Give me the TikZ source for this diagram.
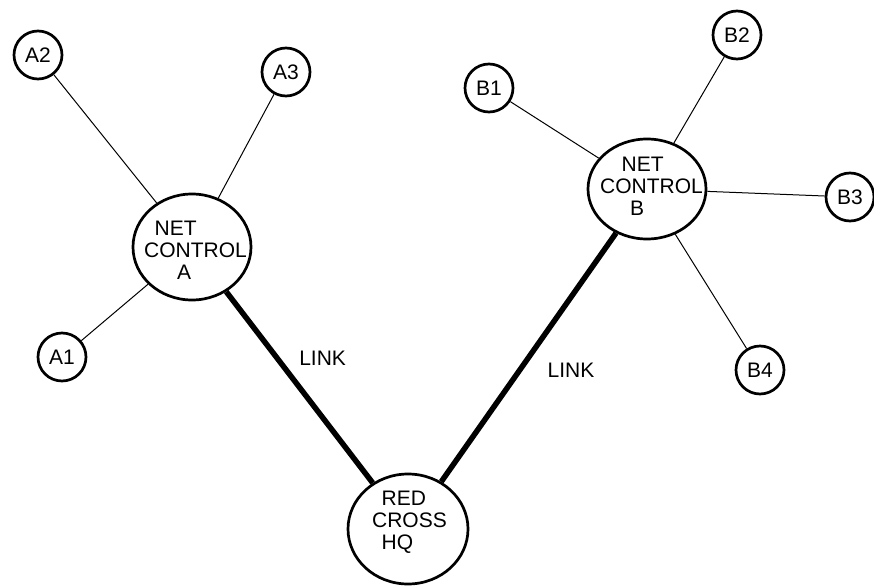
\documentclass[tikz,border=0pt]{standalone}
\usepackage{fontspec}
\setmainfont{Liberation Sans}
\usetikzlibrary{shapes.geometric}

\begin{document}
\begin{tikzpicture}[x=1pt,y=-1pt,line width=1pt,
                    font=\fontsize{21}{22}\selectfont]
  \tikzstyle{station}=[circle,draw=black,line width=2.7pt,fill=white,minimum size=48pt,inner sep=0pt]
  \tikzstyle{control}=[ellipse,draw=black,line width=2.7pt,fill=white,inner sep=0pt]
  \tikzstyle{link}=[line width=5.5pt]
  \useasboundingbox (0,0) rectangle (874,586);

  \node[control,minimum width=118pt,minimum height=106pt,
        label={[align=left,yshift=-3pt]center:\hspace{17.5pt}NET\\\hspace{7pt}CONTROL\\\hspace{40pt}A}]
        (nca) at (192,247) {};
  \node[control,minimum width=118pt,minimum height=100pt,
        label={[align=left,yshift=3pt]center:\hspace{30.5pt}NET\\\hspace{9pt}CONTROL\\\hspace{39pt}B}]
        (ncb) at (647,189) {};
  \node[control,minimum width=120pt,minimum height=110pt,
        label={[align=left,yshift=7pt]center:\hspace{12.5pt}RED\\\hspace{3pt}CROSS\\\hspace{12.5pt}HQ}]
        (hq) at (408,529) {};

  \node[station] (a1) at (62,357) {A1};
  \node[station] (a2) at (38,55)  {A2};
  \node[station] (a3) at (286,72) {A3};
  \node[station] (b1) at (489,88) {B1};
  \node[station] (b2) at (737,35) {B2};
  \node[station] (b3) at (850,197) {B3};
  \node[station] (b4) at (760,370) {B4};

  \path (a1) edge (nca)
        (a2) edge (nca)
        (a3) edge (nca)
        (b1) edge (ncb)
        (b2) edge (ncb)
        (b3) edge (ncb)
        (b4) edge (ncb)
        (nca) edge [link] node [pos=0.35,right=19pt,inner sep=0pt] {LINK} (hq)
        (ncb) edge [link] node [pos=0.55,right=25pt,inner sep=0pt] {LINK} (hq);
\end{tikzpicture}
\end{document}
